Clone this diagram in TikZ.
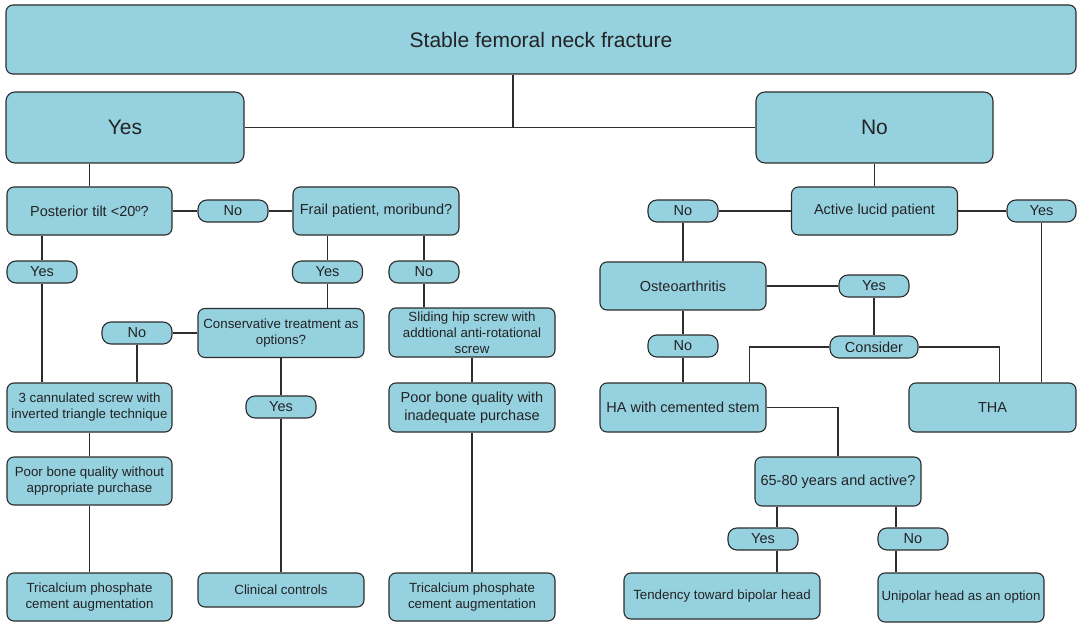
\documentclass[tikz,border=0pt]{standalone}
\usepackage{fontspec}
\setmainfont{Liberation Sans}
\definecolor{boxfill}{RGB}{150,209,224}
\definecolor{boxline}{RGB}{45,45,45}
\definecolor{boxtext}{RGB}{35,35,35}
\newcommand{\txtS}{\fontsize{13.3}{16}\selectfont}
\newcommand{\txtM}{\fontsize{14.5}{18}\selectfont}
\newcommand{\txtL}{\fontsize{21}{25}\selectfont}
\begin{document}
\begin{tikzpicture}[x=1pt,y=-1pt,
	box/.style={draw=boxline,fill=boxfill,text=boxtext,line width=1.1pt,rounded corners=7pt,inner sep=0pt,align=center,font=\txtS},
	sz/.style 2 args={minimum width=#1pt,minimum height=#2pt},
	pill/.style={box,rounded corners=9pt,sz={70}{22},font=\txtM},
	link/.style={draw=boxline,line width=1.1pt}]
		\useasboundingbox (0,0) rectangle (1077,623);
		% top level
		\node[box,sz={1070}{69},font=\txtL] (title) at (541,39.5) {Stable femoral neck fracture};
		\node[box,sz={238}{71},font=\txtL,rounded corners=9pt] (yes) at (125,127.5) {Yes};
		\node[box,sz={237}{71},font=\txtL,rounded corners=9pt] (no) at (874.5,127.5) {No};
		% left side
		\node[box,sz={165}{48},font=\txtM] (tilt) at (89.5,211) {Posterior tilt <20º?};
		\node[pill] (tiltno) at (233,211) {No};
		\node[box,sz={166}{48},font=\txtM] (frail) at (376,211) {Frail patient, moribund?};
		\node[pill] (tiltyes) at (42,272) {Yes};
		\node[pill] (frailyes) at (327.5,272) {Yes};
		\node[pill] (frailno) at (424,272) {No};
		\node[pill] (consno) at (137,333) {No};
		\node[box,sz={166}{49}] (cons) at (281,333) {Conservative treatment as\\options?};
		\node[box,sz={166}{49}] (slide) at (472,332.5) {Sliding hip screw with\\addtional anti-rotational\\screw};
		\node[box,sz={165}{49}] (cann) at (89.5,407.5) {3 cannulated screw with\\inverted triangle technique};
		\node[pill] (consyes) at (281,407) {Yes};
		\node[box,sz={166}{49},font=\txtM] (poorwith) at (472,407.5) {Poor bone quality with\\inadequate purchase};
		\node[box,sz={165}{48}] (poorwo) at (89.5,481) {Poor bone quality without\\appropriate purchase};
		\node[box,sz={165}{48}] (tcpl) at (89.5,597) {Tricalcium phosphate\\cement augmentation};
		\node[box,sz={166}{34}] (clin) at (281,590) {Clinical controls};
		\node[box,sz={166}{48}] (tcpr) at (472,597) {Tricalcium phosphate\\cement augmentation};
		% right side
		\node[box,sz={166}{48},font=\txtM] (lucid) at (874.5,211) {Active lucid patient};
		\node[pill] (lucidno) at (683,211) {No};
		\node[pill,minimum width=69pt] (lucidyes) at (1041.5,211) {Yes};
		\node[box,sz={166}{48},font=\txtM] (oa) at (683,286) {Osteoarthritis};
		\node[pill] (oayes) at (874,286) {Yes};
		\node[pill] (oano) at (683,346) {No};
		\node[pill,minimum width=88pt] (consider) at (874,347) {Consider};
		\node[box,sz={166}{49},font=\txtM] (ha) at (683,407.5) {HA with cemented stem};
		\node[box,sz={167}{49},font=\txtM] (tha) at (992.5,407.5) {THA};
		\node[box,sz={166}{49},font=\txtM] (age) at (838,481.5) {65-80 years and active?};
		\node[pill] (ageyes) at (763,539) {Yes};
		\node[pill] (ageno) at (913,539) {No};
		\node[box,sz={196}{46}] (bipolar) at (722,596) {Tendency toward bipolar head};
		\node[box,sz={166}{49}] (unipolar) at (961,597.5) {Unipolar head as an option};
		% connectors
		\coordinate (split) at (513,127.5);
		\draw[link] (title.south -| split) -- (split);
		\draw[link] (yes) -- (no);
		\draw[link] (yes.south -| tilt) -- (tilt);
		\draw[link] (tilt) -- (tiltno) -- (frail);
		\draw[link] (tiltyes) -- (tiltyes |- tilt.south);
		\draw[link] (tiltyes) -- (tiltyes |- cann.north);
		\draw[link] (frailyes) -- (frailyes |- frail.south);
		\draw[link] (frailno) -- (frailno |- frail.south);
		\draw[link] (frailyes) -- (frailyes |- cons.north);
		\draw[link] (frailno) -- (frailno |- slide.north);
		\draw[link] (cons) -- (consno);
		\draw[link] (consno) -- (consno |- cann.north);
		\draw[link] (cons) -- (consyes) -- (clin);
		\draw[link] (cann) -- (poorwo) -- (tcpl);
		\draw[link] (slide) -- (poorwith) -- (tcpr);
		\draw[link] (no) -- (lucid);
		\draw[link] (lucidno) -- (lucid) -- (lucidyes);
		\draw[link] (lucidno) -- (oa);
		\draw[link] (lucidyes) -- (lucidyes |- tha.north);
		\draw[link] (oa) -- (oayes) -- (consider);
		\draw[link] (oa) -- (oano) -- (ha);
		\coordinate (hacorner) at ([xshift=-17pt]ha.north east);
		\coordinate (thacorner) at ([xshift=7pt]tha.north);
		\draw[link] (consider.west) -| (hacorner);
		\draw[link] (consider.east) -| (thacorner);
		\draw[link] (ha.east) -| (age.north);
		\coordinate (ayline) at ([xshift=14pt]ageyes.center);
		\coordinate (anline) at ([xshift=-17pt]ageno.center);
		\draw[link] (ayline |- age.south) -- (ayline |- ageyes.north);
		\draw[link] (ayline |- ageyes.south) -- (ayline |- bipolar.north);
		\draw[link] (anline |- age.south) -- (anline |- ageno.north);
		\draw[link] (anline |- ageno.south) -- (anline |- unipolar.north);
\end{tikzpicture}
\end{document}
